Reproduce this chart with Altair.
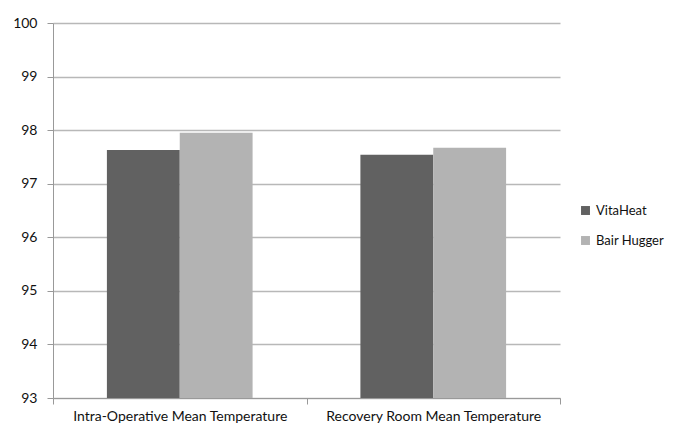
import altair as alt
import pandas as pd

categories = ["Intra-Operative Mean Temperature", "Recovery Room Mean Temperature"]
series = ["VitaHeat", "Bair Hugger"]
vitaheat = [97.63, 97.54]
bair_hugger = [97.95, 97.67]
colors = ["#616161", "#b3b3b3"]

rows = []
for i, c in enumerate(categories):
    rows.append({"category": c, "series": series[0], "value": vitaheat[i]})
    rows.append({"category": c, "series": series[1], "value": bair_hugger[i]})
df = pd.DataFrame(rows)

FONT = "Lato"

chart = alt.Chart(df).mark_bar(clip=True).encode(
    x=alt.X("category:N", sort=categories, title=None,
            scale=alt.Scale(paddingInner=0, paddingOuter=0),
            axis=alt.Axis(labelAngle=0, tickBand="extent", grid=False,
                          domainColor="#999999", tickColor="#999999",
                          tickSize=6, labelPadding=5, labelFontSize=14,
                          labelLimit=0,
                          labelColor="#111111", labelFont=FONT)),
    xOffset=alt.XOffset("series:N", sort=series,
                        scale=alt.Scale(paddingInner=0, paddingOuter=0.74)),
    y=alt.Y("value:Q", title=None,
            scale=alt.Scale(domain=[93, 100], nice=False, zero=False),
            axis=alt.Axis(values=[93, 94, 95, 96, 97, 98, 99, 100],
                          gridColor="#b8b8b8", gridWidth=1.5,
                          domainColor="#999999", tickColor="#999999",
                          tickSize=6, labelPadding=10, labelFontSize=14,
                          labelColor="#111111", labelFont=FONT)),
    color=alt.Color("series:N", sort=series, title=None,
                    scale=alt.Scale(domain=series, range=colors),
                    legend=alt.Legend(orient="none", legendX=526, legendY=181,
                                      symbolType="square", symbolSize=80,
                                      symbolStrokeWidth=0, labelOffset=4,
                                      labelFontSize=13, labelFont=FONT,
                                      labelColor="#111111", rowPadding=16)),
).properties(
    width=507, height=375,
    autosize=alt.AutoSizeParams(type="none"),
    padding={"left": 45, "top": 15, "right": 107, "bottom": 27},
).configure_view(stroke=None)

chart.save("out.html", embed_options={"renderer": "svg", "actions": False})
